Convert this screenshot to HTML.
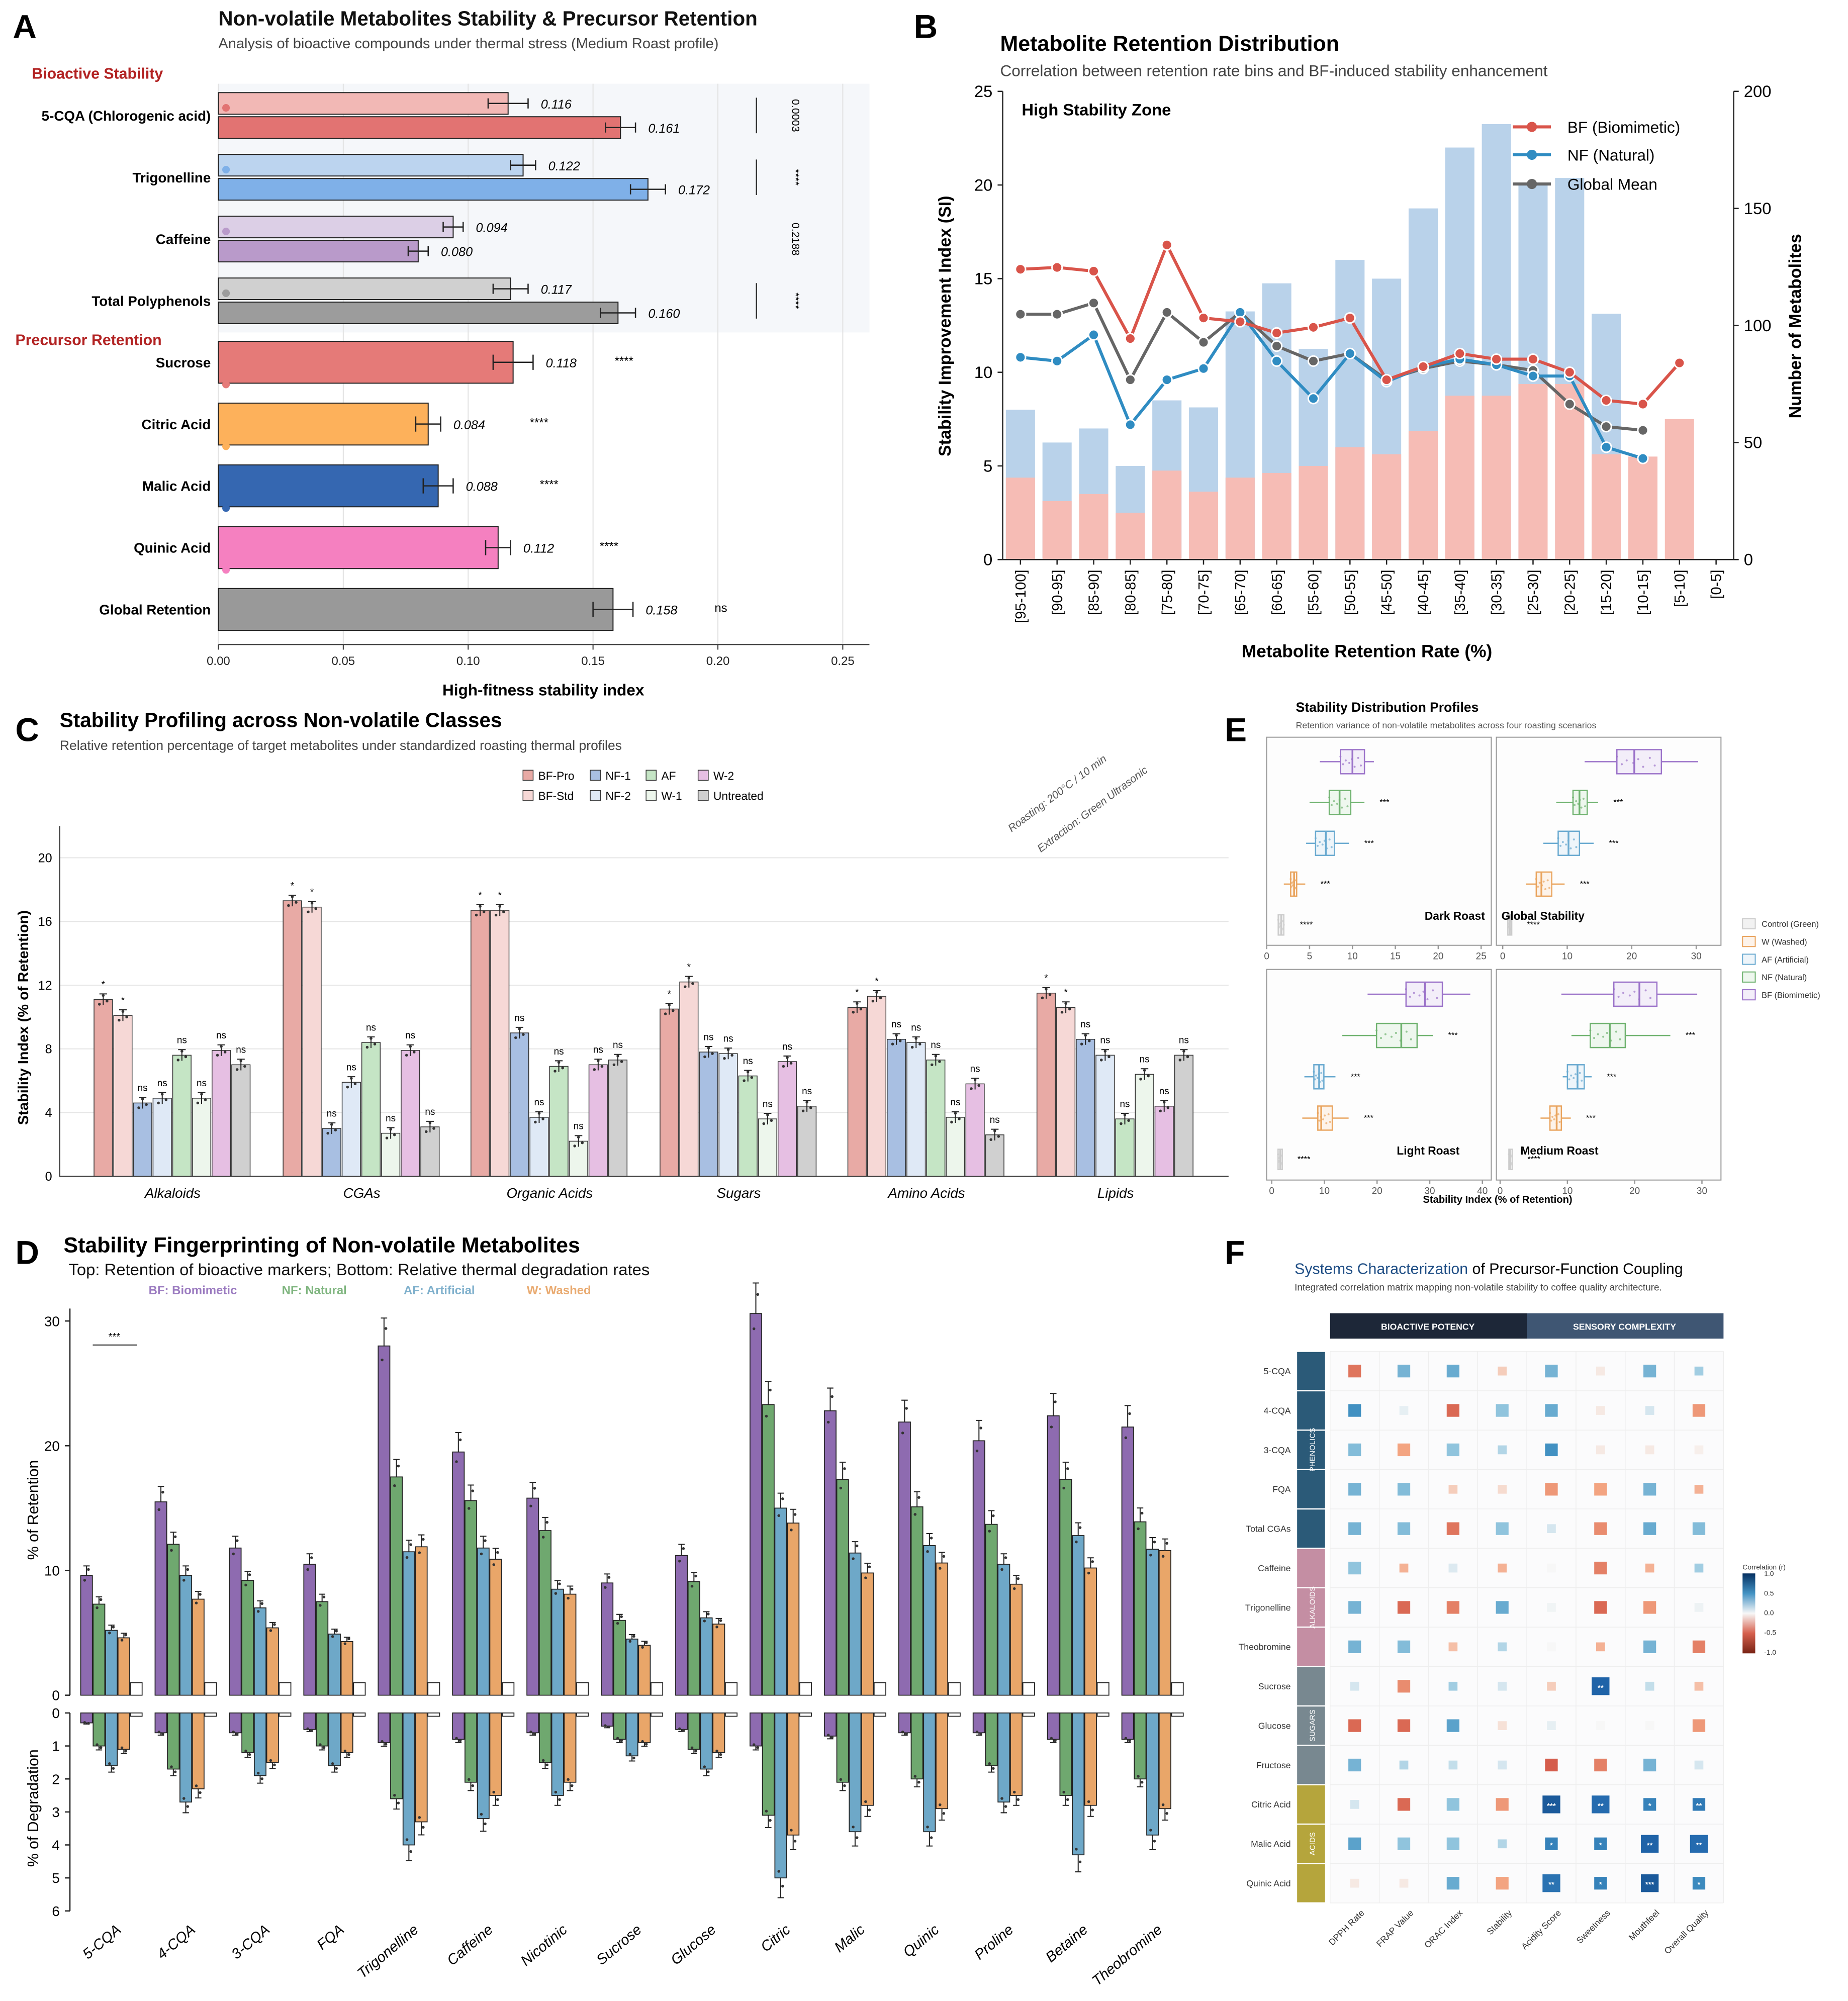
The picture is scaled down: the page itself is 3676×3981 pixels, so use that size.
<!DOCTYPE html>
<html><head><meta charset="utf-8">
<style>
html,body{margin:0;padding:0;background:#fff;}
svg{display:block;font-family:"Liberation Sans",sans-serif;}
</style></head>
<body>
<svg id="fig" xmlns="http://www.w3.org/2000/svg" width="3676" height="3981" viewBox="0 0 1456 1577">
<rect x="0" y="0" width="1456" height="1577" fill="#fff"/>
<!-- Panel A static -->
<text x="10" y="30" font-size="26" font-weight="bold">A</text>
<text x="172" y="20" font-size="16" font-weight="bold" fill="#111">Non-volatile Metabolites Stability &amp; Precursor Retention</text>
<text x="172" y="38" font-size="11.5" fill="#444">Analysis of bioactive compounds under thermal stress (Medium Roast profile)</text>
<rect x="172" y="66" width="513" height="196" fill="#f5f7fa"/>
<text x="25" y="62" font-size="12" font-weight="bold" fill="#b22222">Bioactive Stability</text>
<text x="12" y="272" font-size="12" font-weight="bold" fill="#b22222">Precursor Retention</text>
<text x="428" y="548" font-size="12.5" font-weight="bold" text-anchor="middle">High-fitness stability index</text>
<g id="gA"></g>
<!-- Panel B static -->
<text x="720" y="30" font-size="26" font-weight="bold">B</text>
<text x="788" y="40" font-size="17" font-weight="bold">Metabolite Retention Distribution</text>
<text x="788" y="60" font-size="12.5" fill="#444">Correlation between retention rate bins and BF-induced stability enhancement</text>
<text x="805" y="91" font-size="13" font-weight="bold">High Stability Zone</text>
<text transform="translate(749,257) rotate(-90)" font-size="13.5" font-weight="bold" text-anchor="middle">Stability Improvement Index (SI)</text>
<text transform="translate(1419,257) rotate(-90)" font-size="13.5" font-weight="bold" text-anchor="middle">Number of Metabolites</text>
<text x="1077" y="518" font-size="14" font-weight="bold" text-anchor="middle">Metabolite Retention Rate (%)</text>
<g id="gB"></g>
<!-- Panel C static -->
<text x="12" y="584" font-size="26" font-weight="bold">C</text>
<text x="47" y="573" font-size="16" font-weight="bold">Stability Profiling across Non-volatile Classes</text>
<text x="47" y="591" font-size="10.5" fill="#444">Relative retention percentage of target metabolites under standardized roasting thermal profiles</text>
<text transform="translate(797,656) rotate(-37)" font-size="8.5" font-style="italic" fill="#555">Roasting: 200°C / 10 min</text>
<text transform="translate(820,672) rotate(-37)" font-size="8.5" font-style="italic" fill="#555">Extraction: Green Ultrasonic</text>
<text transform="translate(22,802) rotate(-90)" font-size="11.5" font-weight="bold" text-anchor="middle">Stability Index (% of Retention)</text>
<g id="gC"></g>
<!-- Panel D static -->
<text x="12" y="996" font-size="26" font-weight="bold">D</text>
<text x="50" y="987" font-size="17" font-weight="bold">Stability Fingerprinting of Non-volatile Metabolites</text>
<text x="54" y="1005" font-size="13" fill="#111">Top: Retention of bioactive markers; Bottom: Relative thermal degradation rates</text>
<text x="117" y="1020" font-size="9.5" font-weight="bold" fill="#9b7bc0">BF: Biomimetic</text>
<text x="222" y="1020" font-size="9.5" font-weight="bold" fill="#7fb57f">NF: Natural</text>
<text x="318" y="1020" font-size="9.5" font-weight="bold" fill="#7fb0cc">AF: Artificial</text>
<text x="415" y="1020" font-size="9.5" font-weight="bold" fill="#e9aa70">W: Washed</text>
<text transform="translate(30,1190) rotate(-90)" font-size="12" text-anchor="middle">% of Retention</text>
<text transform="translate(30,1425) rotate(-90)" font-size="12" text-anchor="middle">% of Degradation</text>
<g id="gD"></g>
<!-- Panel E static -->
<text x="965" y="584" font-size="26" font-weight="bold">E</text>
<text x="1021" y="561" font-size="10.5" font-weight="bold">Stability Distribution Profiles</text>
<text x="1021" y="574" font-size="7" fill="#555">Retention variance of non-volatile metabolites across four roasting scenarios</text>
<text x="1180" y="948" font-size="8" font-weight="bold" text-anchor="middle">Stability Index (% of Retention)</text>
<g id="gE"></g>
<!-- Panel F static -->
<text x="965" y="996" font-size="26" font-weight="bold">F</text>
<text x="1020" y="1004" font-size="12"><tspan fill="#1f4e85">Systems Characterization</tspan> of Precursor-Function Coupling</text>
<text x="1020" y="1017" font-size="7.5" fill="#444">Integrated correlation matrix mapping non-volatile stability to coffee quality architecture.</text>
<g id="gF"></g>
</svg>
<script>
// ---------- Panel A data ----------
const aBioCats=['5-CQA (Chlorogenic acid)','Trigonelline','Caffeine','Total Polyphenols'];
const aBioLight=[0.116,0.122,0.094,0.117];
const aBioDark=[0.161,0.172,0.080,0.160];
const aBioLightErr=[0.008,0.005,0.004,0.007];
const aBioDarkErr=[0.006,0.007,0.004,0.007];
const aBioP=['0.0003','****','0.2188','****'];
const aPreCats=['Sucrose','Citric Acid','Malic Acid','Quinic Acid','Global Retention'];
const aPreVals=[0.118,0.084,0.088,0.112,0.158];
const aPreErr=[0.008,0.005,0.006,0.005,0.008];
const aPreSig=['****','****','****','****','ns'];
const aTicks=[0,0.05,0.10,0.15,0.20,0.25];
// ---------- Panel B data ----------
const bCats=['[95-100]','[90-95]','[85-90]','[80-85]','[75-80]','[70-75]','[65-70]','[60-65]','[55-60]','[50-55]','[45-50]','[40-45]','[35-40]','[30-35]','[25-30]','[20-25]','[15-20]','[10-15]','[5-10]','[0-5]'];
const bTotalCount=[64,50,56,40,68,65,106,118,90,128,120,150,176,186,160,163,105,0,0,0];
const bHighCount=[35,25,28,20,38,29,35,37,40,48,45,55,70,70,75,75,45,44,60,0];
const bBF=[15.5,15.6,15.4,11.8,16.8,12.9,12.7,12.1,12.4,12.9,9.6,10.3,11.0,10.7,10.7,10.0,8.5,8.3,10.5];
const bGlobal=[13.1,13.1,13.7,9.6,13.2,11.6,13.2,11.4,10.6,11.0,9.6,10.2,10.6,10.4,10.1,8.3,7.1,6.9];
const bNF=[10.8,10.6,12.0,7.2,9.6,10.2,13.2,10.6,8.6,11.0,9.5,10.3,10.7,10.4,9.8,9.8,6.0,5.4];
const bLeftTicks=[0,5,10,15,20,25];
const bRightTicks=[0,50,100,150,200];
// ---------- Panel C data ----------
const cCats=['Alkaloids','CGAs','Organic Acids','Sugars','Amino Acids','Lipids'];
const cSeries=['BF-Pro','BF-Std','NF-1','NF-2','AF','W-1','W-2','Untreated'];
const cVals=[
 [11.1,10.1,4.6,4.9,7.6,4.9,7.9,7.0],
 [17.3,16.9,3.0,5.9,8.4,2.7,7.9,3.1],
 [16.7,16.7,9.0,3.7,6.9,2.2,7.0,7.3],
 [10.5,12.2,7.8,7.7,6.3,3.6,7.2,4.4],
 [10.6,11.3,8.6,8.4,7.3,3.7,5.8,2.6],
 [11.5,10.6,8.6,7.6,3.6,6.4,4.4,7.6]];
const cSig=['*','*','ns','ns','ns','ns','ns','ns'];
const cTicks=[0,4,8,12,16,20];
// ---------- Panel D data ----------
const dCats=['5-CQA','4-CQA','3-CQA','FQA','Trigonelline','Caffeine','Nicotinic','Sucrose','Glucose','Citric','Malic','Quinic','Proline','Betaine','Theobromine'];
const dBF=[9.6,15.5,11.8,10.5,28,19.5,15.8,9.0,11.2,30.6,22.8,21.9,20.4,22.4,21.5];
const dNF=[7.3,12.1,9.2,7.5,17.5,15.6,13.2,6.0,9.1,23.3,17.3,15.1,13.7,17.3,13.9];
const dAF=[5.2,9.6,7.0,4.9,11.5,11.8,8.5,4.5,6.2,15.0,11.4,12.0,10.5,12.8,11.7];
const dW=[4.6,7.7,5.4,4.3,11.9,10.9,8.1,4.0,5.7,13.8,9.8,10.6,8.9,10.2,11.6];
const dCtrl=[1,1,1,1,1,1,1,1,1,1,1,1,1,1,1];
const dBFdeg=[0.3,0.6,0.6,0.5,0.9,0.8,0.6,0.4,0.5,1.0,0.7,0.6,0.6,0.8,0.8];
const dNFdeg=[1.0,1.7,1.2,1.0,2.6,2.1,1.5,0.8,1.1,3.1,2.1,2.0,1.6,2.5,2.0];
const dAFdeg=[1.6,2.7,1.9,1.6,4.0,3.2,2.5,1.3,1.7,5.0,3.6,3.6,2.7,4.3,3.7];
const dWdeg=[1.1,2.3,1.5,1.2,3.3,2.5,2.1,0.9,1.2,3.7,2.8,2.9,2.5,2.8,2.9];
const dCtrlDeg=[0.1,0.1,0.1,0.1,0.1,0.1,0.1,0.1,0.1,0.1,0.1,0.1,0.1,0.1,0.1];
const dTopTicks=[0,10,20,30];
const dBotTicks=[0,1,2,3,4,5,6];
// ---------- Panel E data (per group: whisker-lo, q1, median, q3, whisker-hi) ----------
const eGroups=['BF (Biomimetic)','NF (Natural)','AF (Artificial)','W (Washed)','Control (Green)'];
const eDark=[[6.2,8.6,10,11.4,12.5],[5,7.3,8.5,9.8,11.4],[4.6,5.7,6.9,7.9,9.6],[2,2.8,3.2,3.5,4.5],[1.3,1.35,1.7,2,2.1]];
const eGlobal=[[12.7,17.7,20.4,24.6,30.3],[8.3,10.9,11.9,13.1,14.8],[6.3,8.6,10.2,11.9,14.1],[3.6,5.2,6,7.6,9.6],[0.8,0.8,1.1,1.4,1.4]];
const eLight=[[18.2,25.5,29.1,32.4,37.7],[13.4,19.9,24.6,27.6,30.6],[6.2,8,9,9.9,12.1],[5.8,8.75,9.4,11.5,14.6],[1.2,1.2,1.6,2,2]];
const eMedium=[[9.1,16.9,20.7,23.3,29.3],[10.6,13.4,16.3,18.6,25.3],[9.3,10,11.5,12.5,13.6],[6,7.4,8.4,9.1,10.5],[1.3,1.3,1.5,1.8,1.8]];
const eSig=['','***','***','***','****'];
const eTicksA=[0,5,10,15,20,25];
const eTicks30=[0,10,20,30];
const eTicks40=[0,10,20,30,40];
// ---------- Panel F data ----------
const fRows=['5-CQA','4-CQA','3-CQA','FQA','Total CGAs','Caffeine','Trigonelline','Theobromine','Sucrose','Glucose','Fructose','Citric Acid','Malic Acid','Quinic Acid'];
const fCols=['DPPH Rate','FRAP Value','ORAC Index','Stability','Acidity Score','Sweetness','Mouthfeel','Overall Quality'];
const fCorr=[
 [-0.5,0.4,0.45,-0.15,0.4,-0.05,0.4,0.25],
 [0.6,0.05,-0.55,0.3,0.45,-0.05,0.1,-0.35],
 [0.35,-0.3,0.3,0.2,0.6,-0.05,-0.05,-0.03],
 [0.4,0.35,-0.15,-0.1,-0.35,-0.3,0.4,-0.25],
 [0.4,0.35,-0.5,0.3,0.1,-0.4,0.45,0.35],
 [0.3,-0.25,0.08,-0.25,0,-0.45,-0.25,0.25],
 [0.4,-0.55,-0.45,0.45,0.02,-0.55,-0.35,0.03],
 [0.4,0.35,-0.2,0.2,0,-0.25,0.4,-0.45],
 [0.1,-0.4,0.25,0.1,-0.15,0.9,0.15,-0.2],
 [-0.55,-0.55,0.5,-0.08,0.05,0,0,-0.35],
 [0.4,0.2,0.15,0.1,-0.6,-0.45,0.4,0.1],
 [0.1,-0.55,0.3,-0.35,0.95,0.85,0.7,0.75],
 [0.5,0.3,0.3,0.2,0.7,0.7,0.9,0.85],
 [-0.05,-0.05,0.45,-0.3,0.8,0.7,0.95,0.65]];
const fSig=[
 ['','','','','','','',''],['','','','','','','',''],['','','','','','','',''],['','','','','','','',''],['','','','','','','',''],
 ['','','','','','','',''],['','','','','','','',''],['','','','','','','',''],['','','','','','**','',''],['','','','','','','',''],
 ['','','','','','','',''],['','','','','***','**','*','**'],['','','','','*','*','**','**'],['','','','','**','*','***','*']];
const fGroups=['PHENOLICS','ALKALOIDS','SUGARS','ACIDS'];
const fGroupSizes=[5,3,3,3];
const fBarTicks=[1.0,0.5,0.0,-0.5,-1.0];

const NS='http://www.w3.org/2000/svg';
function mk(tag,attrs,parent){const e=document.createElementNS(NS,tag);for(const k in attrs)e.setAttribute(k,attrs[k]);parent.appendChild(e);return e;}
function tx(x,y,s,attrs,parent){const e=mk('text',Object.assign({x:x,y:y},attrs),parent);e.textContent=s;return e;}

// ================= PANEL A =================
(function(){
const g=document.getElementById('gA');
const x0=172, pxPer=1968;
const sx=v=>x0+v*pxPer;
aTicks.forEach(t=>{
 let l=mk('line',{x1:sx(t),x2:sx(t),y1:66,y2:508,stroke:'#e2e2e2','stroke-width':0.8},g);
 
 
 let tk=mk('line',{x1:sx(t),x2:sx(t),y1:508,y2:512,stroke:'#333','stroke-width':0.8},g);
 
 
 let lb=tx(sx(t),524,t.toFixed(2),{'font-size':9.5,'text-anchor':'middle',fill:'#222'},g);
 
 
});
let ax=mk('line',{x1:172,x2:685,y1:508,y2:508,stroke:'#333','stroke-width':0.8},g);


const lightC=['#f2b8b5','#bcd4ef','#dccfe6','#d0d0d0'];
const darkC=['#e27372','#7fb0e8','#b99aca','#9c9c9c'];
const rowH=48.7;
aBioCats.forEach((c,i)=>{
 const y=73+i*rowH;
 [[aBioLight[i],aBioLightErr[i],lightC[i],y],[aBioDark[i],aBioDarkErr[i],darkC[i],y+19]].forEach((b,k)=>{
  let r=mk('rect',{x:x0,y:b[3],width:sx(b[0])-x0,height:17,fill:b[2],stroke:'#222','stroke-width':0.8},g);
  
  
  const cy=b[3]+8.5;
  let e=mk('path',{d:`M${sx(b[0]-b[1])},${cy}H${sx(b[0]+b[1])}M${sx(b[0]-b[1])},${cy-4}V${cy+4}M${sx(b[0]+b[1])},${cy-4}V${cy+4}`,stroke:'#222','stroke-width':1,fill:'none'},g);
  
  
  let v=tx(sx(b[0]+b[1])+10,cy+4,b[0].toFixed(3),{'font-size':10,'font-style':'italic'},g);
  
  
 });
 let d=mk('circle',{cx:178,cy:y+12,r:3,fill:darkC[i]},g);
 
 
 let lb=tx(166,y+22,c,{'font-size':11,'font-weight':'bold','text-anchor':'end'},g);
 
 
 if(aBioP[i]!=='0.2188'){
  let vl=mk('line',{x1:596,x2:596,y1:y+4,y2:y+32,stroke:'#333','stroke-width':1},g);
  
  
 }
 let p=tx(0,0,aBioP[i],{'font-size':8.5,'text-anchor':'middle',transform:`translate(624,${y+18}) rotate(90)`},g);
 
 
});
const preC=['#e57a78','#fdb15b','#3567b1','#f580c0','#999999'];
aPreCats.forEach((c,j)=>{
 const y=269+j*rowH, v=aPreVals[j], er=aPreErr[j];
 let r=mk('rect',{x:x0,y:y,width:sx(v)-x0,height:33,fill:preC[j],stroke:'#222','stroke-width':0.8},g);
 
 
 const cy=y+16.5;
 let e=mk('path',{d:`M${sx(v-er)},${cy}H${sx(v+er)}M${sx(v-er)},${cy-6}V${cy+6}M${sx(v+er)},${cy-6}V${cy+6}`,stroke:'#222','stroke-width':1,fill:'none'},g);
 
 
 let vl=tx(sx(v+er)+10,cy+4,v.toFixed(3),{'font-size':10,'font-style':'italic'},g);
 
 
 let s=tx(sx(v)+80,cy+2,aPreSig[j],{'font-size':9.5},g);
 
 
 if(j<4){let d=mk('circle',{cx:178,cy:y+34,r:3,fill:preC[j]},g);
 
 }
 let lb=tx(166,cy+4,c,{'font-size':11,'font-weight':'bold','text-anchor':'end'},g);
 
 
});
})();

// ================= PANEL B =================
(function(){
const g=document.getElementById('gB');
const left=790,right=1366,top=72,bot=441;
const step=28.85, x0=804;
const sx=i=>x0+i*step;
const syL=v=>bot-v*(bot-top)/25;
const syR=v=>bot-v*(bot-top)/200;
bTotalCount.forEach((v,i)=>{ if(v>0){
 let r=mk('rect',{x:sx(i)-11.5,y:syR(v),width:23,height:bot-syR(v),fill:'#b9d2ea'},g);
 
 }});
bHighCount.forEach((v,i)=>{ if(v>0){
 let r=mk('rect',{x:sx(i)-11.5,y:syR(v),width:23,height:bot-syR(v),fill:'#f6bcb5'},g);
 
 }});
let fr=mk('path',{d:`M${left},${top}V${bot}H${right}V${top}`,stroke:'#222','stroke-width':1,fill:'none'},g);


bLeftTicks.forEach(t=>{
 let l=mk('line',{x1:left-4,x2:left,y1:syL(t),y2:syL(t),stroke:'#222'},g);
 
 
 let lb=tx(left-8,syL(t)+4.5,String(t),{'font-size':13,'text-anchor':'end'},g);
 
 
});
bRightTicks.forEach(t=>{
 let l=mk('line',{x1:right,x2:right+4,y1:syR(t),y2:syR(t),stroke:'#222'},g);
 
 
 let lb=tx(right+8,syR(t)+4.5,String(t),{'font-size':13},g);
 
 
});
bCats.forEach((c,i)=>{
 let l=mk('line',{x1:sx(i),x2:sx(i),y1:bot,y2:bot+4,stroke:'#222'},g);
 
 
 let lb=tx(0,0,c,{'font-size':11.5,'text-anchor':'end',transform:`translate(${sx(i)+4},${bot+8}) rotate(-90)`},g);
 
 
});
const series=[[bGlobal,'#666666','global-mean'],[bNF,'#2f8cc2','nf-natural'],[bBF,'#d9544a','bf-biomimetic']];
series.forEach(s=>{
 const d=s[0].map((v,i)=>(i?'L':'M')+sx(i)+','+syL(v)).join('');
 let p=mk('path',{d:d,stroke:s[1],'stroke-width':2.4,fill:'none'},g);
 
 
 s[0].forEach((v,i)=>{
  let c=mk('circle',{cx:sx(i),cy:syL(v),r:4,fill:s[1],stroke:'#fff','stroke-width':1.2},g);
  
  
 });
});
const leg=[['BF (Biomimetic)','#d9544a',100],['NF (Natural)','#2f8cc2',122],['Global Mean','#666666',145]];
leg.forEach(L=>{
 let l=mk('line',{x1:1192,x2:1222,y1:L[2],y2:L[2],stroke:L[1],'stroke-width':2.4},g);
 
 
 let c=mk('circle',{cx:1207,cy:L[2],r:4,fill:L[1]},g);
 
 
 let t=tx(1235,L[2]+4.5,L[0],{'font-size':12.5},g);
 
 
});
})();

// ================= PANEL C =================
(function(){
const g=document.getElementById('gC');
const left=47,right=968,bot=927,top=676;
const sy=v=>bot-v*(bot-top)/20;
const centers=[136,285,433,582,730,879];
const bw=15.5;
const cols=['#e8aaa5','#f6d8d6','#a8bfe2','#dfe9f6','#c5e5c5','#edf6ec','#e6bfe3','#d0d0d0'];
cTicks.forEach(t=>{
 let l=mk('line',{x1:left,x2:right,y1:sy(t),y2:sy(t),stroke:'#e6e6e6','stroke-width':0.8},g);
 
 
 let lb=tx(left-6,sy(t)+3.5,String(t),{'font-size':10,'text-anchor':'end'},g);
 
 
});
let ax=mk('path',{d:`M${left},${top-25}V${bot}H${right}`,stroke:'#333','stroke-width':0.8,fill:'none'},g);


cCats.forEach((c,gi)=>{
 cVals[gi].forEach((v,i)=>{
  const x=centers[gi]-4*bw+i*bw;
  let r=mk('rect',{x:x,y:sy(v),width:bw-1,height:bot-sy(v),fill:cols[i],stroke:'#333','stroke-width':0.6},g);
  
  
  const cx=x+bw/2-0.5, er=0.35;
  let e=mk('path',{d:`M${cx},${sy(v-er)}V${sy(v+er)}M${cx-3},${sy(v+er)}H${cx+3}`,stroke:'#222','stroke-width':0.8,fill:'none'},g);
  
  
  [[-3,-0.3],[0,0.25],[3,-0.1]].forEach(o=>{
   let d=mk('circle',{cx:cx+o[0],cy:sy(v+o[1]),r:1.1,fill:'#333'},g);
   
   
  });
  let s=tx(cx,sy(v+er)-5,cSig[i],{'font-size':7.5,'text-anchor':'middle'},g);
  
  
 });
 let lb=tx(centers[gi],944,c,{'font-size':11,'font-style':'italic','text-anchor':'middle'},g);
 
 
});
const legX=[412,465,509,550];
const legOrder=[[0,2,4,6],[1,3,5,7]];
legOrder.forEach((row,ri)=>row.forEach((si,k)=>{
 const y=607+ri*16;
 let r=mk('rect',{x:legX[k],y:y,width:8,height:8,fill:cols[si],stroke:'#333','stroke-width':0.6},g);
 
 
 let t=tx(legX[k]+12,y+7.5,cSeries[si],{'font-size':9},g);
 
 
}));
})();

// ================= PANEL D =================
(function(){
const g=document.getElementById('gD');
const left=55, topBase=1336, topScale=9.83, botBase=1350, botScale=26;
const syT=v=>topBase-v*topScale;
const syB=v=>botBase+v*botScale;
const step=58.6, c0=88, bw=9.8;
const cols=['#8e6bb0','#6fa86f','#6ea8c8','#e9a669','#ffffff'];
const names=['bf','nf','af','w','control'];
const tops=[dBF,dNF,dAF,dW,dCtrl];
const bots=[dBFdeg,dNFdeg,dAFdeg,dWdeg,dCtrlDeg];
let ax=mk('path',{d:`M${left},${syT(31)}V${topBase}M${left},${botBase}V${syB(6)}`,stroke:'#222','stroke-width':1,fill:'none'},g);


dTopTicks.forEach(t=>{
 let l=mk('line',{x1:left-4,x2:left,y1:syT(t),y2:syT(t),stroke:'#222'},g);
 
 
 let lb=tx(left-8,syT(t)+4,String(t),{'font-size':11,'text-anchor':'end'},g);
 
 
});
dBotTicks.forEach(t=>{
 let l=mk('line',{x1:left-4,x2:left,y1:syB(t),y2:syB(t),stroke:'#222'},g);
 
 
 let lb=tx(left-8,syB(t)+4,String(t),{'font-size':11,'text-anchor':'end'},g);
 
 
});
dCats.forEach((c,gi)=>{
 const cx0=c0+gi*step-2.5*bw;
 for(let i=0;i<5;i++){
  const x=cx0+i*bw, v=tops[i][gi], dv=bots[i][gi];
  let r=mk('rect',{x:x,y:syT(v),width:bw-0.6,height:topBase-syT(v),fill:cols[i],stroke:'#222','stroke-width':0.7},g);
  
  
  let rb=mk('rect',{x:x,y:botBase,width:bw-0.6,height:syB(dv)-botBase,fill:cols[i],stroke:'#222','stroke-width':0.7},g);
  
  
  if(i<4){
   const mx=x+bw/2-0.3, et=v*0.08, eb=dv*0.12;
   let e=mk('path',{d:`M${mx},${syT(v)}V${syT(v+et)}M${mx-2.5},${syT(v+et)}H${mx+2.5}M${mx},${syB(dv)}V${syB(dv+eb)}M${mx-2.5},${syB(dv+eb)}H${mx+2.5}`,stroke:'#222','stroke-width':0.8,fill:'none'},g);
   
   
   [[-1.5,-0.04],[1.5,0.05]].forEach(o=>{
    let d=mk('circle',{cx:mx+o[0],cy:syT(v*(1+o[1])),r:1.1,fill:'#333'},g);
    
    
    let d2=mk('circle',{cx:mx+o[0],cy:syB(dv*(1+o[1])),r:1.1,fill:'#333'},g);
    
    
   });
  }
 }
 let lb=tx(0,0,c,{'font-size':11.5,'font-style':'italic','text-anchor':'end',transform:`translate(${c0+gi*step+8},${1522}) rotate(-40)`},g);
 
 
});
let sl=mk('line',{x1:73,x2:108,y1:1060,y2:1060,stroke:'#222','stroke-width':0.8},g);


let st=tx(90,1056,'***',{'font-size':8,'text-anchor':'middle'},g);


})();

// ================= PANEL E =================
(function(){
const g=document.getElementById('gE');
const cols=['#9b72c9','#6fb26f','#6aaad0','#e9a45e','#cccccc'];
const fills=['#f3eef9','#eef7ee','#eef5fa','#fdf3ea','#f2f2f2'];
const panels=[
 {d:eDark,x0:998,x1:1175,y0:581,y1:745,ticks:eTicksA,max:25,label:'Dark Roast',lx:1170,la:'end',name:'dark-roast'},
 {d:eGlobal,x0:1179,x1:1356,y0:581,y1:745,ticks:eTicks30,max:30,label:'Global Stability',lx:1183,la:'start',name:'global-stability'},
 {d:eLight,x0:998,x1:1175,y0:764,y1:930,ticks:eTicks40,max:40,label:'Light Roast',lx:1150,la:'end',name:'light-roast'},
 {d:eMedium,x0:1179,x1:1356,y0:764,y1:930,ticks:eTicks30,max:30,label:'Medium Roast',lx:1198,la:'start',name:'medium-roast'}];
const zero={'dark-roast':998,'global-stability':1184,'light-roast':1002,'medium-roast':1182};
const full={'dark-roast':1167,'global-stability':1336.5,'light-roast':1168,'medium-roast':1341};
panels.forEach(P=>{
 const z=zero[P.name], f=full[P.name];
 const sx=v=>z+v*(f-z)/P.max;
 let fr=mk('rect',{x:P.x0,y:P.y0,width:P.x1-P.x0,height:P.y1-P.y0,fill:'#fdfdfd',stroke:'#999','stroke-width':0.8},g);
 
 
 P.ticks.forEach(t=>{
  let l=mk('line',{x1:sx(t),x2:sx(t),y1:P.y1,y2:P.y1+3,stroke:'#999'},g);
  
  
  let lb=tx(sx(t),P.y1+11,String(t),{'font-size':7.5,'text-anchor':'middle',fill:'#555'},g);
  
  
 });
 const rowStep=(P.y1-P.y0)/5.1;
 P.d.forEach((b,i)=>{
  const cy=P.y0+rowStep*(i+0.6), h=i===4?16:19;
  let w=mk('path',{d:`M${sx(b[0])},${cy}H${sx(b[1])}M${sx(b[3])},${cy}H${sx(b[4])}`,stroke:cols[i],'stroke-width':1,fill:'none'},g);
  
  
  let r=mk('rect',{x:sx(b[1]),y:cy-h/2,width:Math.max(2,sx(b[3])-sx(b[1])),height:h,fill:fills[i],stroke:cols[i],'stroke-width':1},g);
  
  
  let m=mk('line',{x1:sx(b[2]),x2:sx(b[2]),y1:cy-h/2,y2:cy+h/2,stroke:cols[i],'stroke-width':1.4},g);
  
  
  for(let k=0;k<8;k++){
   const v=b[1]+(b[3]-b[1])*((k*0.37)%1);
   let d=mk('circle',{cx:sx(v),cy:cy+((k*5)%9)-4,r:0.8,fill:cols[i],opacity:0.7},g);
   
   
  }
  if(eSig[i]){
   let s=tx(sx(b[4])+12,cy+2,eSig[i],{'font-size':6.5},g);
   
   
  }
 });
 let lb=tx(P.lx,P.y1-20,P.label,{'font-size':9,'font-weight':'bold','text-anchor':P.la},g);
 
 
});
const legNames=['Control (Green)','W (Washed)','AF (Artificial)','NF (Natural)','BF (Biomimetic)'];
const legIdx=[4,3,2,1,0];
legNames.forEach((n,k)=>{
 const y=728+k*14, i=legIdx[k];
 let r=mk('rect',{x:1373,y:y-4,width:10,height:8,fill:fills[i],stroke:cols[i],'stroke-width':0.8},g);
 
 
 let t=tx(1388,y+2.5,n,{'font-size':6.5,fill:'#333'},g);
 
 
});
})();

// ================= PANEL F =================
(function(){
const g=document.getElementById('gF');
const gx0=1048,gx1=1358,gy0=1065,rowH=31.05,colW=(gx1-gx0)/8;
function col(v){
 const lerp=(a,b,t)=>Math.round(a+(b-a)*t);
 let c;
 if(v>=0){
  const stops=[[247,247,247],[146,197,222],[67,147,195],[33,102,172],[5,48,97]];
  const t=Math.min(v,1)*4,i=Math.min(3,Math.floor(t)),f=t-i;
  c=stops[i].map((a,k)=>lerp(a,stops[i+1][k],f));
 } else {
  const stops=[[247,247,247],[244,165,130],[214,96,77],[178,24,43],[103,0,31]];
  const t=Math.min(-v,1)*4,i=Math.min(3,Math.floor(t)),f=t-i;
  c=stops[i].map((a,k)=>lerp(a,stops[i+1][k],f));
 }
 return `rgb(${c[0]},${c[1]},${c[2]})`;
}
let h1=mk('rect',{x:1048,y:1035,width:155,height:20,fill:'#1d2738'},g);


let h2=mk('rect',{x:1203,y:1035,width:155,height:20,fill:'#3f5673'},g);


let t1=tx(1125,1048,'BIOACTIVE POTENCY',{'font-size':7,'font-weight':'bold',fill:'#fff','text-anchor':'middle'},g);


let t2=tx(1280,1048,'SENSORY COMPLEXITY',{'font-size':7,'font-weight':'bold',fill:'#fff','text-anchor':'middle'},g);


let bg=mk('rect',{x:gx0,y:gy0,width:gx1-gx0,height:rowH*14,fill:'#fbfbfc'},g);


for(let i=0;i<=14;i++){
 let l=mk('line',{x1:gx0,x2:gx1,y1:gy0+i*rowH,y2:gy0+i*rowH,stroke:'#eeeeee','stroke-width':0.6},g);
 
 
}
for(let j=0;j<=8;j++){
 let l=mk('line',{x1:gx0+j*colW,x2:gx0+j*colW,y1:gy0,y2:gy0+14*rowH,stroke:'#eeeeee','stroke-width':0.6},g);
 
 
}
const gcols=['#2b5a78','#c48ea3','#788890','#b5a53c'];
let start=0;
fGroups.forEach((gn,k)=>{
 for(let r=start;r<start+fGroupSizes[k];r++){
  let s=mk('rect',{x:1022,y:gy0+r*rowH+0.5,width:22,height:rowH-1,fill:gcols[k]},g);
  
  
 }
 const cy=gy0+(start+fGroupSizes[k]/2)*rowH;
 let t=tx(0,0,gn,{'font-size':6,fill:'#fff','text-anchor':'middle',transform:`translate(1036,${cy}) rotate(-90)`},g);
 
 
 start+=fGroupSizes[k];
});
fRows.forEach((rn,r)=>{
 const cy=gy0+(r+0.5)*rowH;
 let t=tx(1017,cy+2.5,rn,{'font-size':7,'text-anchor':'end',fill:'#333'},g);
 
 
 fCorr[r].forEach((v,c)=>{
  const cx=gx0+(c+0.5)*colW, a=Math.abs(v);
  const s=a>0.75?14:(a>0.25?10:7);
  let q=mk('rect',{x:cx-s/2,y:cy-s/2,width:s,height:s,fill:col(v*0.85)},g);
  
  
  if(fSig[r][c]){
   let st=tx(cx,cy+3,fSig[r][c],{'font-size':6,fill:'#fff','text-anchor':'middle','font-weight':'bold'},g);
   
   
  }
 });
});
fCols.forEach((cn,c)=>{
 const cx=gx0+(c+0.5)*colW;
 let t=tx(0,0,cn,{'font-size':7,'text-anchor':'end',fill:'#333',transform:`translate(${cx+8},${1508}) rotate(-45)`},g);
 
 
});
let defs=mk('defs',{},g);
let lg=mk('linearGradient',{id:'cbar',x1:0,y1:0,x2:0,y2:1},defs);
[[0,col(1)],[0.25,col(0.5)],[0.5,col(0)],[0.75,col(-0.5)],[1,'rgb(120,35,20)']].forEach(s=>{
 let st=mk('stop',{offset:s[0],'stop-color':s[1]},lg);
 
 
});
let cb=mk('rect',{x:1373,y:1240,width:10,height:63,fill:'url(#cbar)'},g);


let ct=tx(1373,1237,'Correlation (r)',{'font-size':5.5,fill:'#333'},g);


fBarTicks.forEach((t,k)=>{
 let l=tx(1390,1242+k*15.5,t.toFixed(1),{'font-size':5.5,fill:'#333'},g);
 
 
});
})();
</script>
</body></html>
